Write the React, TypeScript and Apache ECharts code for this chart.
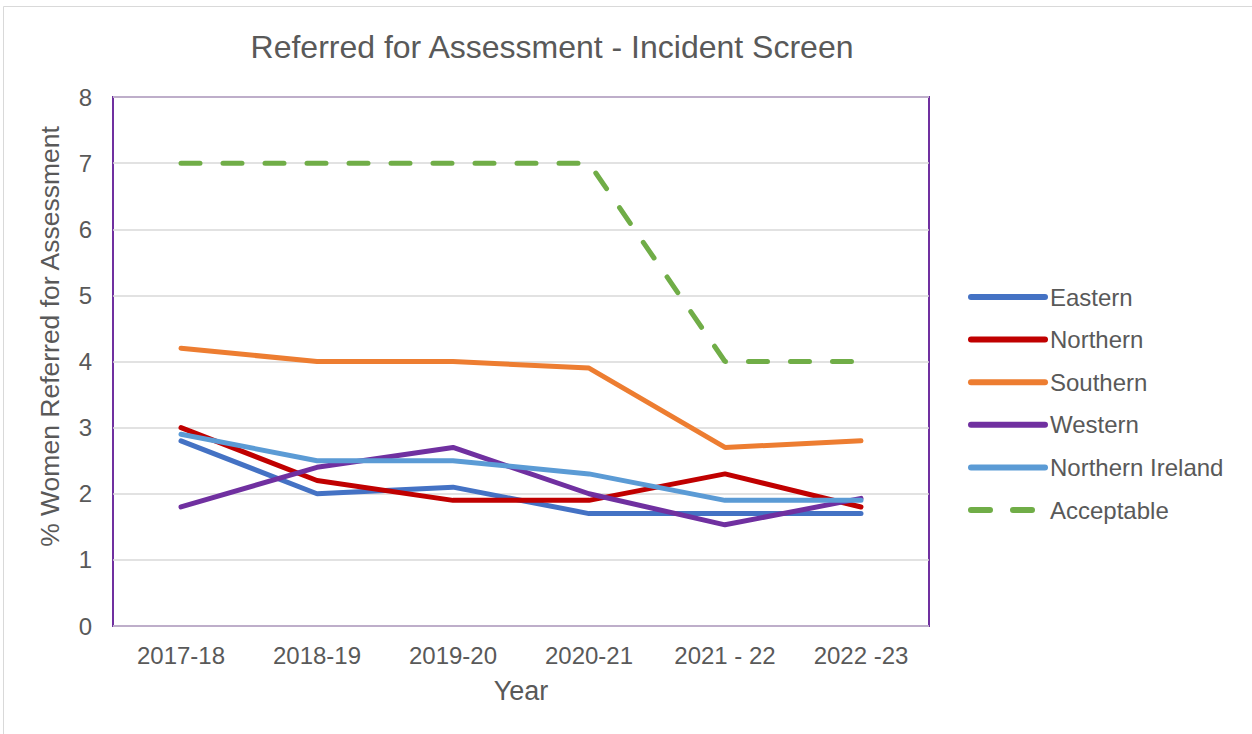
import React, { useEffect, useRef } from "react";
import * as echarts from "echarts";

const categories = ["2017-18", "2018-19", "2019-20", "2020-21", "2021 - 22", "2022 -23"];
const seriesNames = ["Eastern", "Northern", "Southern", "Western", "Northern Ireland", "Acceptable"];
const eastern = [2.8, 2.0, 2.1, 1.7, 1.7, 1.7];
const northern = [3.0, 2.2, 1.9, 1.9, 2.3, 1.8];
const southern = [4.2, 4.0, 4.0, 3.9, 2.7, 2.8];
const western = [1.8, 2.4, 2.7, 2.0, 1.53, 1.93];
const northernIreland = [2.9, 2.5, 2.5, 2.3, 1.9, 1.9];
const acceptable = [7, 7, 7, 7, 4, 4];
const colors = ["#4472C4", "#C00000", "#ED7D31", "#7030A0", "#5B9BD5", "#70AD47"];

const FONT = "'Liberation Sans', Arial, sans-serif";
const TEXT = "#595959";
const DASH = [19, 23];

export default function App() {
  const ref = useRef<HTMLDivElement>(null);
  useEffect(() => {
    document.body.style.margin = "0";
    const chart = echarts.init(ref.current!, null, { renderer: "svg" });
    const values = [eastern, northern, southern, western, northernIreland, acceptable];
    const series = seriesNames.map((name, i) => {
      const dashed = name === "Acceptable";
      return {
        name,
        type: "line",
        data: values[i],
        symbol: "none",
        lineStyle: {
          color: colors[i],
          width: 5,
          cap: "round",
          type: dashed ? DASH : "solid",
        },
        itemStyle: { color: colors[i] },
      };
    });
    chart.setOption({
      animation: false,
      textStyle: { fontFamily: FONT },
      graphic: [
        {
          type: "rect",
          shape: { x: 3.5, y: 6.5, width: 1260, height: 740 },
          style: { fill: "none", stroke: "#d9d9d9", lineWidth: 1 },
          silent: true,
        },
        {
          type: "text",
          x: 552,
          y: 47,
          style: {
            text: "Referred for Assessment - Incident Screen",
            fill: TEXT,
            font: `32px ${FONT}`,
            align: "center",
            verticalAlign: "middle",
          },
        },
      ],
      grid: {
        left: 113,
        right: 323,
        top: 97,
        bottom: 108,
        show: true,
        borderColor: "#7030A0",
        borderWidth: 2,
        containLabel: false,
      },
      legend: {
        orient: "vertical",
        left: 963,
        top: 280,
        itemWidth: 74,
        itemHeight: 24,
        itemGap: 18.6,
        itemStyle: { opacity: 0 },
        textStyle: { color: TEXT, fontSize: 24, fontFamily: FONT },
        data: seriesNames.map((name, i) => ({
          name,
          itemStyle: { opacity: 0 },
          lineStyle: {
            color: colors[i],
            width: 6,
            cap: "round",
            type: name === "Acceptable" ? DASH : "solid",
          },
        })),
      },
      xAxis: {
        type: "category",
        data: categories,
        boundaryGap: true,
        axisLine: { show: false },
        axisTick: { show: false },
        axisLabel: { color: TEXT, fontSize: 24, margin: 17, fontFamily: FONT },
        name: "Year",
        nameLocation: "middle",
        nameGap: 51,
        nameTextStyle: { color: TEXT, fontSize: 27, fontFamily: FONT },
      },
      yAxis: {
        type: "value",
        min: 0,
        max: 8,
        interval: 1,
        axisLine: { show: false },
        axisTick: { show: false },
        splitLine: { lineStyle: { color: "#d9d9d9", width: 1.5 } },
        axisLabel: { color: TEXT, fontSize: 24, margin: 21, fontFamily: FONT },
        name: "% Women Referred for Assessment",
        nameLocation: "middle",
        nameGap: 50,
        nameTextStyle: { color: TEXT, fontSize: 26.5, fontFamily: FONT, padding: [0, 0, 0, 50] },
      },
      series,
    });
    return () => chart.dispose();
  }, []);
  return <div ref={ref} style={{ width: 1252, height: 734 }} />;
}
